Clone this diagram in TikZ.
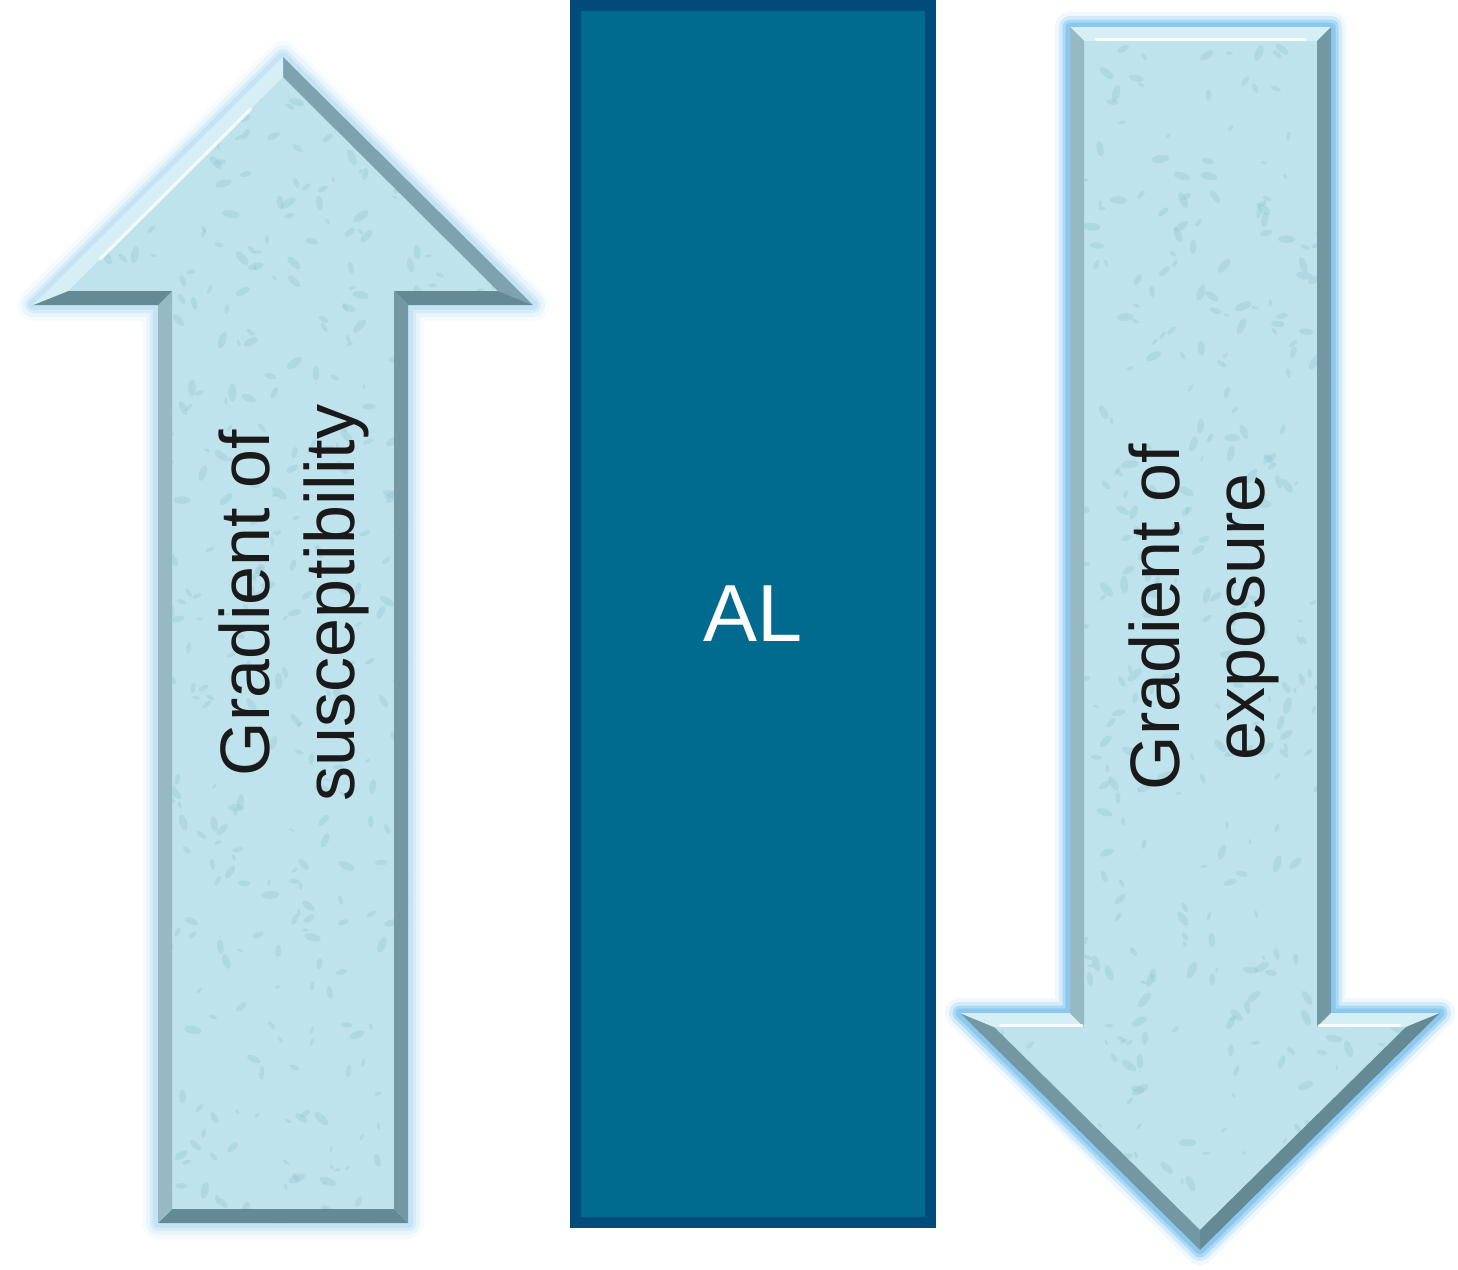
\documentclass[tikz,border=0pt]{standalone}
\usepackage{fontspec}
\setmainfont{Liberation Sans}
\usetikzlibrary{calc}
\definecolor{arrfill}{HTML}{BEE3ED}
\definecolor{speck}{HTML}{8FBFCD}
\definecolor{bvlight}{HTML}{D6EEF5}
\definecolor{bvmed}{HTML}{97B9C4}
\definecolor{bvdark}{HTML}{7398A4}
\definecolor{bvdarker}{HTML}{648A96}
\definecolor{glowA}{HTML}{B5DBF3}
\definecolor{glowB}{HTML}{7CC2EE}
\definecolor{alout}{HTML}{004B79}
\definecolor{alin}{HTML}{006B8F}
\definecolor{txt}{HTML}{1A1A1A}
\tikzset{
  hilite/.style={white, line width=3, opacity=0.85, line cap=round},
  lbl/.style={font=\fontsize{70}{85}\selectfont, text=txt, rotate=90, align=center, inner sep=0pt},
  blob/.style={speck, opacity=0.3},
}
\begin{document}
\begin{tikzpicture}[x=1pt,y=-1pt]
\useasboundingbox (0,0) rectangle (1458,1269);
% ---------- up arrow ----------
\coordinate (uT) at (283,57);
\coordinate (uR) at (533,305);
\coordinate (uSR) at (408,305);
\coordinate (uBR) at (408,1223);
\coordinate (uBL) at (158,1223);
\coordinate (uSL) at (158,305);
\coordinate (uL) at (33,305);
\coordinate (iT) at (283,77);
\coordinate (iR) at (498,291);
\coordinate (iSR) at (394,291);
\coordinate (iBR) at (394,1209);
\coordinate (iBL) at (172,1209);
\coordinate (iSL) at (172,291);
\coordinate (iL) at (68,291);
\foreach \w/\o in {32/0.12,24/0.2,16/0.35,10/0.5}{
  \draw[glowA, line width=\w, line join=round, opacity=\o] (uT)--(uR)--(uSR)--(uBR)--(uBL)--(uSL)--(uL)--cycle;
}
\fill[arrfill] (uT)--(uR)--(uSR)--(uBR)--(uBL)--(uSL)--(uL)--cycle;
\begin{scope}
\clip (uT)--(uR)--(uSR)--(uBR)--(uBL)--(uSL)--(uL)--cycle;
\pgfmathsetseed{7}
\foreach \k in {1,...,650}{
  \pgfmathsetmacro\px{30+rnd*505}
  \pgfmathsetmacro\py{55+rnd*1170}
  \pgfmathsetmacro\rr{1.5+rnd*3.5}
  \pgfmathsetmacro\ang{rnd*180}
  \fill[blob] (\px,\py) ellipse [x radius=1.8*\rr, y radius=0.8*\rr, rotate=\ang];
}
\end{scope}
\fill[bvdark!70!bvmed] (uT)--(uR)--(iR)--(iT)--cycle;
\fill[bvdarker] (uR)--(uSR)--(iSR)--(iR)--cycle;
\fill[bvdark] (uSR)--(uBR)--(iBR)--(iSR)--cycle;
\fill[bvdarker] (uBR)--(uBL)--(iBL)--(iBR)--cycle;
\fill[bvmed] (uBL)--(uSL)--(iSL)--(iBL)--cycle;
\fill[bvdarker] (uSL)--(uL)--(iL)--(iSL)--cycle;
\fill[bvlight] (uL)--(uT)--(iT)--(iL)--cycle;
\draw[hilite] ($(iL)!0.15!(iT)$) -- ($(iL)!0.85!(iT)$);
% ---------- down arrow ----------
\coordinate (dTL) at (1070,27);
\coordinate (dTR) at (1331,27);
\coordinate (dSR) at (1331,1013);
\coordinate (dR) at (1440,1013);
\coordinate (dTip) at (1200,1250);
\coordinate (dL) at (960,1013);
\coordinate (dSL) at (1070,1013);
\coordinate (jTL) at (1084,41);
\coordinate (jTR) at (1317,41);
\coordinate (jSR) at (1317,1027);
\coordinate (jR) at (1406,1027);
\coordinate (jTip) at (1200,1230);
\coordinate (jL) at (994,1027);
\coordinate (jSL) at (1084,1027);
\foreach \w/\o in {30/0.12,22/0.25,15/0.45,9/0.7}{
  \draw[glowB, line width=\w, line join=round, opacity=\o] (dTL)--(dTR)--(dSR)--(dR)--(dTip)--(dL)--(dSL)--cycle;
}
\fill[arrfill] (dTL)--(dTR)--(dSR)--(dR)--(dTip)--(dL)--(dSL)--cycle;
\begin{scope}
\clip (dTL)--(dTR)--(dSR)--(dR)--(dTip)--(dL)--(dSL)--cycle;
\pgfmathsetseed{11}
\foreach \k in {1,...,650}{
  \pgfmathsetmacro\px{955+rnd*490}
  \pgfmathsetmacro\py{25+rnd*1230}
  \pgfmathsetmacro\rr{1.5+rnd*3.5}
  \pgfmathsetmacro\ang{rnd*180}
  \fill[blob] (\px,\py) ellipse [x radius=1.8*\rr, y radius=0.8*\rr, rotate=\ang];
}
\end{scope}
\fill[bvlight] (dTL)--(dTR)--(jTR)--(jTL)--cycle;
\fill[bvdark] (dTR)--(dSR)--(jSR)--(jTR)--cycle;
\fill[bvlight] (dSR)--(dR)--(jR)--(jSR)--cycle;
\fill[bvdarker] (dR)--(dTip)--(jTip)--(jR)--cycle;
\fill[bvdark] (dTip)--(dL)--(jL)--(jTip)--cycle;
\fill[bvlight] (dL)--(dSL)--(jSL)--(jL)--cycle;
\fill[bvmed] (dSL)--(dTL)--(jTL)--(jSL)--cycle;
\draw[hilite] ($(jTL)+(12,-2)$) -- ($(jTR)+(-12,-2)$);
\draw[hilite] ($(jSR)+(2,-2)$) -- ($(jR)+(-6,-2)$);
\draw[hilite] ($(jL)+(6,-2)$) -- ($(jSL)+(-2,-2)$);
% ---------- AL bar ----------
\node (al) [fill=alin, draw=alout, line width=11, minimum width=355, minimum height=1217, inner sep=0pt,
  font=\fontsize{81}{90}\selectfont, text=white] at (753,614) {AL};
% ---------- labels ----------
\node (lblup) [lbl] at (294,603) {Gradient of\\susceptibility};
\node (lbldown) [lbl] at (1204,617) {Gradient of\\exposure};
\end{tikzpicture}
\end{document}
